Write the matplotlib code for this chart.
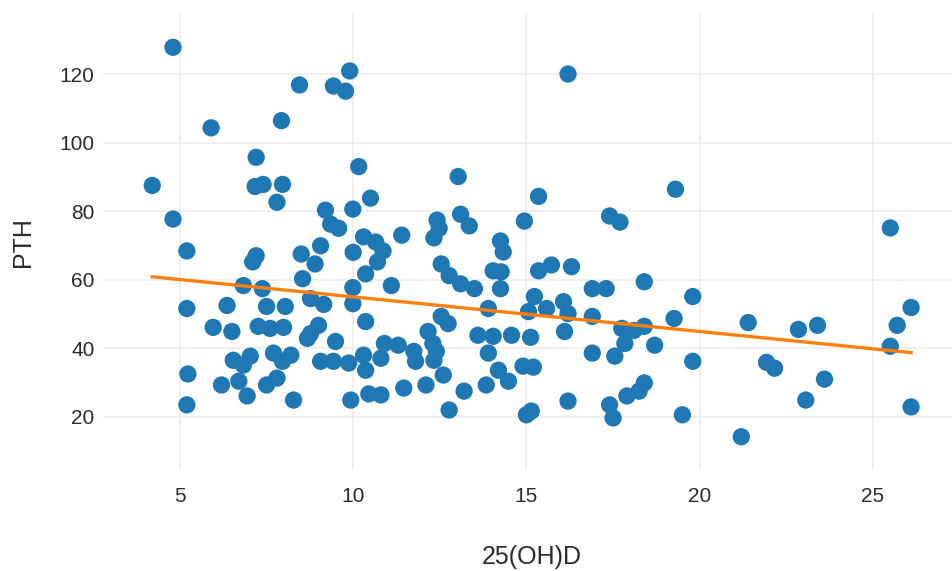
#!/usr/bin/env python3
"""Scatter of PTH vs 25(OH)D with a linear trend line."""

import matplotlib
import numpy as np

matplotlib.use("Agg")
import matplotlib.pyplot as plt

# 25(OH)D values
vitd = [
    4.8, 9.9, 8.45, 9.43, 9.78, 7.93, 5.9, 7.2, 10.16, 4.2,
    7.17, 7.4, 7.96, 7.8, 10.5, 4.8, 9.2, 9.99, 9.35, 9.58,
    11.4, 10.3, 10.65, 10.86, 10.0, 9.06, 5.2, 7.2, 8.5, 7.1,
    8.9, 10.7, 10.36, 11.1, 8.54, 9.99, 6.83, 7.38, 5.2, 6.36,
    7.5, 8.04, 8.77, 9.15, 9.99, 5.96, 6.5, 7.26, 7.6, 7.99,
    9.0, 8.77, 8.68, 9.49, 10.36, 6.54, 7.03, 6.83, 7.7, 8.2,
    7.96, 9.06, 9.43, 9.87, 10.3, 10.36, 10.9, 11.3, 10.8, 5.23,
    6.2, 6.7, 6.94, 7.5, 7.8, 8.28, 9.93, 10.45, 10.8, 11.46,
    5.2,
    16.2, 13.03, 19.3, 15.35, 13.1, 13.35, 17.4, 17.7, 14.94, 12.42,
    12.48, 12.33, 14.25, 14.33, 12.54, 12.77, 13.1, 13.5, 14.04, 14.27,
    14.25, 15.35, 15.72, 16.3, 18.4, 16.9, 17.3, 15.23, 16.07, 16.2,
    13.9, 15.06, 15.58, 16.9, 19.26, 17.75, 18.1, 18.4, 17.84, 18.7,
    12.54, 12.74, 13.6, 14.04, 13.9, 14.57, 15.12, 16.1, 12.16, 12.3,
    12.4, 12.33, 11.75, 11.8, 12.6, 12.1, 13.2, 12.77, 13.84, 14.19,
    14.48, 14.9, 15.2, 15.0, 15.14, 16.2, 16.9, 17.55, 17.4, 17.5,
    17.9, 18.25, 18.4, 19.5,
    25.5, 19.8, 21.4, 22.85, 23.4, 26.1, 25.7, 25.5, 19.8, 21.93,
    22.16, 23.6, 23.06, 21.2, 26.1,
]

# PTH values
pth = [
    127.8, 120.9, 116.8, 116.5, 115.0, 106.4, 104.3, 95.7, 93.0, 87.5,
    87.2, 87.8, 87.8, 82.6, 83.8, 77.7, 80.3, 80.6, 76.2, 75.0,
    73.0, 72.5, 71.0, 68.4, 68.0, 69.9, 68.4, 67.0, 67.5, 65.2,
    64.6, 65.2, 61.7, 58.3, 60.3, 57.7, 58.3, 57.4, 51.6, 52.5,
    52.2, 52.2, 54.5, 52.8, 53.0, 46.1, 44.9, 46.4, 45.8, 46.1,
    46.7, 44.3, 42.9, 42.0, 47.8, 36.5, 37.7, 35.1, 38.6, 38.0,
    36.2, 36.2, 36.2, 35.7, 38.0, 33.6, 41.4, 40.9, 37.1, 32.5,
    29.3, 30.4, 26.1, 29.3, 31.3, 24.9, 24.9, 26.7, 26.4, 28.4,
    23.5,
    120.0, 90.1, 86.4, 84.3, 79.1, 75.7, 78.6, 76.8, 77.1, 77.4,
    75.0, 72.2, 71.3, 68.1, 64.6, 61.2, 58.8, 57.4, 62.6, 62.3,
    57.4, 62.6, 64.3, 63.8, 59.4, 57.4, 57.4, 55.1, 53.6, 50.1,
    51.6, 50.7, 51.6, 49.3, 48.7, 45.8, 45.2, 46.4, 41.4, 40.9,
    49.3, 47.2, 43.8, 43.5, 38.6, 43.8, 43.2, 44.9, 44.9, 41.4,
    39.1, 36.5, 39.1, 36.2, 32.2, 29.3, 27.5, 22.0, 29.3, 33.6,
    30.4, 34.8, 34.5, 20.6, 21.7, 24.6, 38.6, 37.7, 23.5, 19.7,
    26.1, 27.5, 29.9, 20.6,
    75.1, 55.1, 47.5, 45.5, 46.7, 51.9, 46.7, 40.6, 36.2, 35.9,
    34.2, 31.0, 24.9, 14.2, 22.9,
]

# trend line as drawn in the chart (intercept, slope)
trend_intercept = 65.1
trend_slope = -1.01

x_ticks = [5, 10, 15, 20, 25]
y_ticks = [20, 40, 60, 80, 100, 120]


def main() -> None:
    plt.rcParams["font.family"] = ["Liberation Sans", "DejaVu Sans"]

    x = np.array(vitd, dtype=float)
    y = np.array(pth, dtype=float)
    xs = np.array([x.min(), x.max()])

    fig = plt.figure(figsize=(9.53, 5.71), dpi=100)
    ax = fig.add_axes([103 / 953, 1 - 470 / 571, 850 / 953, 457 / 571])

    ax.scatter(x, y, s=155, color="#1f77b4", edgecolors="none", zorder=3)
    ax.plot(xs, trend_intercept + trend_slope * xs, color="#ff7f0e", lw=2.4, zorder=4)

    ax.set_xlim(2.78, 27.31)
    ax.set_ylim(4.5, 137.8)
    ax.set_xticks(x_ticks)
    ax.set_yticks(y_ticks)
    ax.grid(color="#ebebeb", lw=1.1, zorder=0)
    ax.set_axisbelow(True)
    for sp in ax.spines.values():
        sp.set_visible(False)
    ax.tick_params(length=0, labelsize=15, labelcolor="#2b2b2b", pad=6)
    ax.tick_params(axis="x", pad=12)

    fig.text(532 / 953, 1 - 557 / 571, "25(OH)D", ha="center", va="center",
             fontsize=18, color="#2b2b2b")
    fig.text(23 / 953, 1 - 242 / 571, "PTH", ha="center", va="center",
             rotation=90, fontsize=18, color="#2b2b2b")

    fig.savefig("out.png", dpi=100)
    plt.close(fig)


if __name__ == "__main__":
    main()
